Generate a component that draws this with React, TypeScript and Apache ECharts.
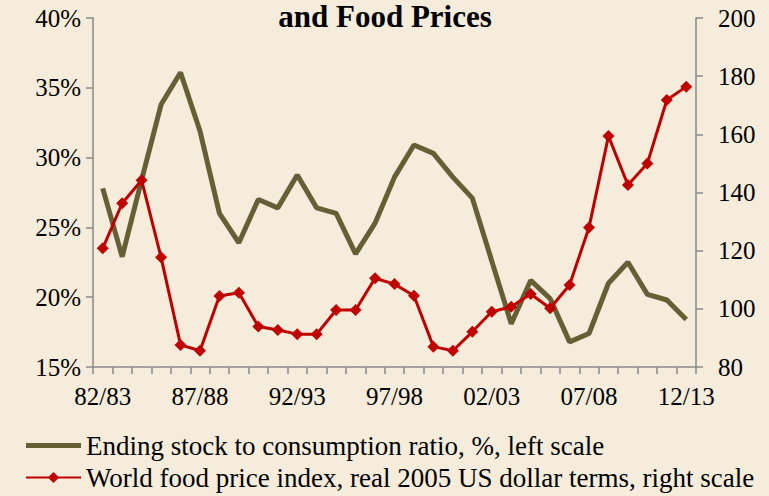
import React, { useEffect, useRef } from "react";
import * as echarts from "echarts";

const categories = [
  "82/83", "83/84", "84/85", "85/86", "86/87", "87/88", "88/89", "89/90", "90/91", "91/92",
  "92/93", "93/94", "94/95", "95/96", "96/97", "97/98", "98/99", "99/00", "00/01", "01/02",
  "02/03", "03/04", "04/05", "05/06", "06/07", "07/08", "08/09", "09/10", "10/11", "11/12", "12/13",
];

const stockRatio = [
  27.8, 22.9, 28.4, 33.8, 36.1, 31.9, 26.0, 23.9, 27.0, 26.4,
  28.75, 26.4, 26.0, 23.1, 25.3, 28.6, 30.9, 30.3, 28.6, 27.1,
  22.6, 18.1, 21.2, 19.9, 16.8, 17.4, 21.0, 22.5, 20.2, 19.8, 18.4,
];

const priceIndex = [
  120.8, 136.3, 144.2, 117.7, 87.6, 85.6, 104.4, 105.5, 93.9, 92.7,
  91.3, 91.3, 99.6, 99.6, 110.5, 108.5, 104.5, 87.0, 85.6, 92.1,
  99.0, 100.7, 105.1, 100.2, 108.2, 128.0, 159.4, 142.6, 150.0, 171.8, 176.4,
];

const leftTicks = { min: 15, max: 40, interval: 5 };
const rightTicks = { min: 80, max: 200, interval: 20 };

const FONT = "'Liberation Serif', 'Times New Roman', serif";
const STOCK_NAME = "Ending stock to consumption ratio, %, left scale";
const PRICE_NAME = "World food price index, real 2005 US dollar terms, right scale";

export default function App() {
  const ref = useRef<HTMLDivElement>(null);
  useEffect(() => {
    if (!ref.current) return;
    const chart = echarts.init(ref.current, undefined, { renderer: "svg" });
    const axisColor = "#8a8a8a";
    chart.setOption({
      animation: false,
      backgroundColor: "#F5ECDB",
      title: {
        text: "and Food Prices",
        left: 380,
        textAlign: "center",
        top: -4,
        textStyle: { fontFamily: FONT, fontSize: 31, fontWeight: "bold", color: "#000" },
      },
      grid: { left: 93, right: 73, top: 18, bottom: 129, containLabel: false },
      legend: {
        orient: "vertical",
        left: 20,
        top: 427,
        itemWidth: 55,
        itemHeight: 14,
        itemGap: 5,
        textStyle: { fontFamily: FONT, fontSize: 27, color: "#000" },
        data: [
          { name: STOCK_NAME, icon: "path://M0,0 L55,0 L55,5 L0,5 Z" },
          PRICE_NAME,
        ],
      },
      xAxis: {
        type: "category",
        data: categories,
        boundaryGap: true,
        axisLine: { lineStyle: { color: axisColor, width: 1.5 } },
        axisTick: { show: true, interval: 0, length: 7, lineStyle: { color: axisColor, width: 1.5 } },
        axisLabel: { interval: 4, margin: 17, fontFamily: FONT, fontSize: 25, color: "#000" },
        splitLine: { show: false },
      },
      yAxis: [
        {
          type: "value",
          position: "left",
          min: leftTicks.min,
          max: leftTicks.max,
          interval: leftTicks.interval,
          axisLine: { show: true, lineStyle: { color: axisColor, width: 1.5 } },
          axisTick: { show: true, length: 7, lineStyle: { color: axisColor, width: 1.5 } },
          axisLabel: { formatter: "{value}%", margin: 12, fontFamily: FONT, fontSize: 25, color: "#000" },
          splitLine: { show: false },
        },
        {
          type: "value",
          position: "right",
          min: rightTicks.min,
          max: rightTicks.max,
          interval: rightTicks.interval,
          axisLine: { show: true, lineStyle: { color: axisColor, width: 1.5 } },
          axisTick: { show: true, length: 7, lineStyle: { color: axisColor, width: 1.5 } },
          axisLabel: { margin: 22, fontFamily: FONT, fontSize: 25, color: "#000" },
          splitLine: { show: false },
        },
      ],
      series: [
        {
          name: STOCK_NAME,
          type: "line",
          yAxisIndex: 0,
          data: stockRatio,
          symbol: "none",
          lineStyle: { color: "#665E34", width: 5 },
          itemStyle: { color: "#665E34" },
          z: 2,
        },
        {
          name: PRICE_NAME,
          type: "line",
          yAxisIndex: 1,
          data: priceIndex,
          symbol: "diamond",
          symbolSize: 12,
          lineStyle: { color: "#C00000", width: 3 },
          itemStyle: { color: "#C00000" },
          z: 3,
        },
      ],
    });
    return () => chart.dispose();
  }, []);
  return <div ref={ref} style={{ width: 769, height: 496, position: "absolute", left: 0, top: 0 }} />;
}
